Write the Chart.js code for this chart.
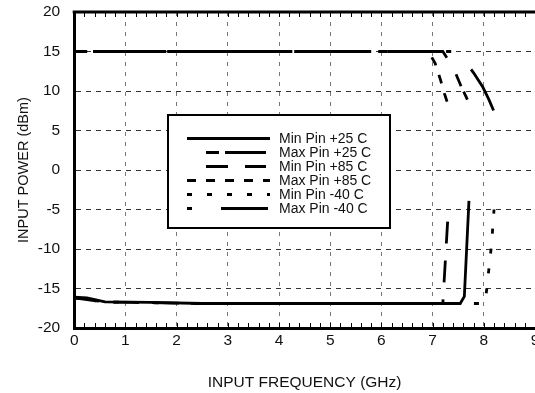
<!DOCTYPE html>
<html>
<head>
<meta charset="utf-8">
<script src="https://cdn.jsdelivr.net/npm/chart.js@4/dist/chart.umd.min.js"></script>
<style>
	html, body { margin: 0; padding: 0; background: #fff; overflow: hidden; }
	#wrap { width: 560px; height: 393px; }
</style>
</head>
<body>
<div id="wrap"><canvas id="chart" width="560" height="393"></canvas></div>
<script>
// values (GHz / dBm)
const minPin25Freq = [0, 0.25, 0.6, 1.5, 2.5, 7.54, 7.62, 7.71];
const minPin25Pwr = [-16.1, -16.2, -16.7, -16.75, -16.9, -16.9, -16.0, -3.9];

const maxPin25Freq = [0, 7.2, 7.3, 7.42, 7.55, 7.68];
const maxPin25Pwr = [15, 15, 14.0, 12.7, 10.7, 8.9];

const minPin85Freq = [0, 0.6, 2.5, 7.2, 7.31];
const minPin85Pwr = [-16.2, -16.7, -16.9, -16.9, -4.7];

const maxPin85Freq = [0, 6.92, 7.05, 7.15, 7.23, 7.3];
const maxPin85Pwr = [15, 15, 13.5, 11.5, 9.7, 8.3];

const minPinM40Freq = [0, 0.6, 2.5, 7.99, 8.05, 8.1, 8.15, 8.2];
const minPinM40Pwr = [-16.2, -16.7, -16.9, -16.9, -15.5, -12.5, -9.5, -5.0];

const maxPinM40Freq = [0, 7.5, 7.57, 7.8, 7.98, 8.1, 8.22];
const maxPinM40Pwr = [15, 15, 14.4, 12.3, 10.5, 8.9, 7.1];

const seriesLabels = ['Min Pin +25 C', 'Max Pin +25 C', 'Min Pin +85 C', 'Max Pin +85 C', 'Min Pin -40 C', 'Max Pin -40 C'];

const xTicks = [0, 1, 2, 3, 4, 5, 6, 7, 8, 9];
const yTicks = [-20, -15, -10, -5, 0, 5, 10, 15, 20];

function pts(fx, py) {
	return fx.map((f, i) => ({ x: f, y: py[i] }));
}

const dashes = [[], [13, 6, 41, 19], [22, 17], [9, 10], [5, 15], [5, 29, 47, 12]];
const seriesData = [
	pts(minPin25Freq, minPin25Pwr),
	pts(maxPin25Freq, maxPin25Pwr),
	pts(minPin85Freq, minPin85Pwr),
	pts(maxPin85Freq, maxPin85Pwr),
	pts(minPinM40Freq, minPinM40Pwr),
	pts(maxPinM40Freq, maxPinM40Pwr)
];

const fontFam = '"Liberation Sans", Arial, Helvetica, sans-serif';

// top border, inner minor ticks and the boxed legend
const framePlugin = {
	id: 'frame',
	afterDraw(chart) {
		const { ctx, chartArea: a, scales: { x } } = chart;
		ctx.save();
		ctx.strokeStyle = '#000';
		ctx.lineWidth = 3;
		ctx.beginPath();
		ctx.moveTo(a.left - 1.5, a.top);
		ctx.lineTo(a.right, a.top);
		ctx.stroke();

		ctx.lineWidth = 1;
		ctx.beginPath();
		for (let v = 0.2; v < 9; v += 0.2) {
			const px = Math.round(x.getPixelForValue(v)) + 0.5;
			ctx.moveTo(px, a.bottom - 1);
			ctx.lineTo(px, a.bottom - 5);
			ctx.moveTo(px, a.top + 1);
			ctx.lineTo(px, a.top + 5);
		}
		ctx.stroke();

		// legend
		const bx = 168, by = 115, bw = 222, bh = 113;
		ctx.fillStyle = '#fff';
		ctx.fillRect(bx, by, bw, bh);
		ctx.lineWidth = 2;
		ctx.strokeRect(bx, by, bw, bh);
		const samples = [[187, 270], [206, 266], [206, 266], [187, 270], [187, 270], [187, 268]];
		ctx.font = '14px ' + fontFam;
		ctx.textBaseline = 'middle';
		chart.data.datasets.forEach((ds, i) => {
			const y = 138.5 + i * 14;
			ctx.setLineDash(ds.borderDash);
			ctx.lineWidth = 3;
			ctx.beginPath();
			ctx.moveTo(samples[i][0], y);
			ctx.lineTo(samples[i][1], y);
			ctx.stroke();
			ctx.setLineDash([]);
			ctx.fillStyle = '#111';
			ctx.fillText(ds.label, 279, y + 0.5);
		});
		ctx.restore();
	}
};

new Chart(document.getElementById('chart'), {
	type: 'line',
	data: {
		datasets: seriesData.map((d, i) => ({
			label: seriesLabels[i],
			data: d,
			borderColor: '#000',
			borderWidth: 2.8,
			borderDash: dashes[i],
			pointRadius: 0,
			fill: false,
			tension: 0
		}))
	},
	options: {
		responsive: false,
		animation: false,
		layout: { padding: { left: 0, top: 12, right: 25, bottom: 0 } },
		plugins: { legend: { display: false }, tooltip: { enabled: false } },
		scales: {
			x: {
				type: 'linear',
				min: 0,
				max: 9,
				afterBuildTicks: (s) => { s.ticks = xTicks.map(v => ({ value: v })); },
				ticks: { color: '#111', font: { family: fontFam, size: 15.5 }, padding: 3 },
				grid: { color: '#777', drawTicks: false, lineWidth: 1 },
				border: { display: true, color: '#000', width: 3, dash: [4, 6] },
				title: {
					display: true,
					text: 'INPUT FREQUENCY (GHz)',
					color: '#111',
					font: { family: fontFam, size: 15.5 },
					padding: { top: 20.8, bottom: 1 }
				}
			},
			y: {
				type: 'linear',
				min: -20,
				max: 20,
				afterBuildTicks: (s) => { s.ticks = yTicks.map(v => ({ value: v })); },
				ticks: { color: '#111', font: { family: fontFam, size: 15.5 }, padding: 0 },
				grid: { color: '#333', drawTicks: true, tickLength: 14, tickColor: 'rgba(0,0,0,0)', lineWidth: 1 },
				border: { display: true, color: '#000', width: 3, dash: [5, 5] },
				title: {
					display: true,
					text: 'INPUT POWER (dBm)',
					color: '#111',
					font: { family: fontFam, size: 14.5 },
					padding: { top: 15, bottom: 5.4 }
				}
			}
		}
	},
	plugins: [framePlugin]
});
</script>
</body>
</html>
